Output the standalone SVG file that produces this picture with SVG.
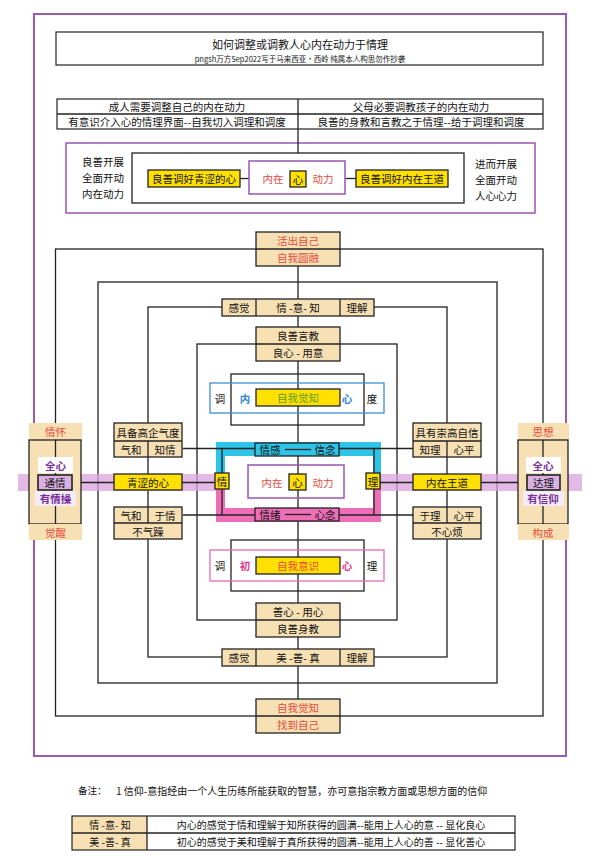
<svg xmlns="http://www.w3.org/2000/svg" width="600" height="856" viewBox="0 0 600 856">
<style>
.ln{stroke:#222;stroke-width:1.3;fill:none}
.bx{stroke:#222;stroke-width:1.3;fill:#F7E0B4}
.wb{stroke:#222;stroke-width:1.2;fill:#fff}
.yb{stroke:#222;stroke-width:1.3;fill:#FFE000}
.lb{fill:#F7E0B4;stroke:none}
.t{font-family:"Noto Sans CJK SC","Noto Sans",sans-serif;font-size:10.5px;fill:#111;text-anchor:middle;dominant-baseline:central}
.s{font-size:9.5px}
.r{fill:#E84A3F}
.bl{fill:#2A86D6;font-weight:bold}
.m{fill:#E2358F;font-weight:bold}
.p{fill:#7A2E9E;font-weight:bold}
.g{fill:#5E9E2A}
.pu{stroke:#9B55B0;stroke-width:1.5;fill:none}
</style>
<rect x="0" y="0" width="600" height="856" fill="#fff"/>
<rect x="34" y="14" width="532" height="742" fill="none" stroke="#9A5AAE" stroke-width="2"/>

<g id="title">
<rect x="56" y="32" width="487" height="33" class="wb"/>
<text x="300" y="44" class="t" style="font-size:11px">如何调整或调教人心内在动力于情理</text>
<text x="300" y="58" class="t" style="font-size:7.5px">pngsh万方Sep2022写于马来西亚·西岭 纯属本人构思勿作抄袭</text>
</g>

<g id="header">
<rect x="57" y="99" width="486" height="30" class="wb"/>
<line x1="57" y1="114" x2="543" y2="114" class="ln"/>
<text x="177" y="106.5" class="t">成人需要调整自己的内在动力</text>
<text x="177" y="121.5" class="t">有意识介入心的情理界面--自我切入调理和调度</text>
<text x="421" y="106.5" class="t">父母必要调教孩子的内在动力</text>
<text x="421" y="121.5" class="t">良善的身教和言教之于情理--给于调理和调度</text>
</g>

<g id="purplebox">
<rect x="66" y="143" width="469" height="70" class="pu"/>
<rect x="132" y="153" width="332" height="50" class="ln" style="fill:#fff"/>
<text x="103" y="161" class="t">良善开展</text>
<text x="103" y="177" class="t">全面开动</text>
<text x="103" y="193" class="t">内在动力</text>
<text x="496" y="163" class="t">进而开展</text>
<text x="496" y="179" class="t">全面开动</text>
<text x="496" y="195" class="t">人心心力</text>
</g>

<g id="connectors">
<line x1="298" y1="99" x2="298" y2="153" class="ln"/>
<line x1="240" y1="178.5" x2="249" y2="178.5" class="ln"/>
<line x1="345" y1="178.5" x2="356" y2="178.5" class="ln"/>
<rect x="55.5" y="249" width="487.5" height="467" class="ln"/>
<rect x="98" y="282" width="399" height="401" class="ln"/>
<rect x="148" y="307" width="299" height="350" class="ln"/>
<rect x="197" y="344" width="200" height="276" class="ln"/>
<rect x="231" y="374" width="133" height="51" class="ln"/>
<rect x="231" y="540" width="133" height="51" class="ln"/>
<line x1="298" y1="266" x2="298" y2="699" class="ln"/>
</g>

<g id="bands">
<rect x="18" y="474" width="198" height="17" fill="#D9A3DD" opacity="0.75"/>
<rect x="381" y="474" width="201" height="17" fill="#D9A3DD" opacity="0.75"/>
<path d="M216,482 V442 H381 V482 H373 V456 H225 V482 Z" fill="#2EC4E8"/>
<path d="M216,482 V522 H381 V482 H373 V508 H225 V482 Z" fill="#EE6FB7"/>
</g>

<g id="links">
<line x1="183" y1="448.5" x2="413" y2="448.5" class="ln"/>
<line x1="183" y1="515" x2="413" y2="515" class="ln"/>
<line x1="222" y1="448.5" x2="222" y2="515" class="ln"/>
<line x1="374" y1="448.5" x2="374" y2="515" class="ln"/>
<line x1="72" y1="482.5" x2="114" y2="482.5" class="ln"/>
<line x1="182" y1="482.5" x2="216" y2="482.5" class="ln"/>
<line x1="380" y1="482.5" x2="413" y2="482.5" class="ln"/>
<line x1="481" y1="482.5" x2="527" y2="482.5" class="ln"/>
</g>

<g id="n-yellow-left">
<rect x="148" y="170" width="92" height="17" class="yb"/>
<text x="194" y="178.5" class="t">良善调好青涩的心</text>
</g>
<g id="n-core-top">
<rect x="249" y="161" width="96" height="33" class="pu" style="fill:#fff"/>
<text x="273" y="178.5" class="t r">内在</text>
<rect x="290" y="171" width="16" height="16" class="yb"/>
<text x="298" y="179" class="t">心</text>
<text x="323" y="178.5" class="t r">动力</text>
</g>
<g id="n-yellow-right">
<rect x="356" y="170" width="92" height="17" class="yb"/>
<text x="402" y="178.5" class="t">良善调好内在王道</text>
</g>

<g id="n-top">
<rect x="256" y="232" width="84" height="34" class="bx"/>
<line x1="256" y1="249" x2="340" y2="249" class="ln"/>
<text x="298" y="240.5" class="t r">活出自己</text>
<text x="298" y="257.5" class="t r">自我圆融</text>
</g>
<g id="n-row-top">
<rect x="222" y="299" width="152" height="17" class="bx"/>
<line x1="256" y1="299" x2="256" y2="316" class="ln"/>
<line x1="340" y1="299" x2="340" y2="316" class="ln"/>
<text x="239" y="307.5" class="t">感觉</text>
<text x="298" y="307.5" class="t">情 -意- 知</text>
<text x="357" y="307.5" class="t">理解</text>
</g>
<g id="n-yanjiao">
<rect x="256" y="327" width="84" height="34" class="bx"/>
<line x1="256" y1="344" x2="340" y2="344" class="ln"/>
<text x="298" y="335.5" class="t">良善言教</text>
<text x="298" y="352.5" class="t">良心 - 用意</text>
</g>
<g id="n-blue">
<rect x="210" y="383" width="174" height="30" fill="none" stroke="#3D8FD8" stroke-width="1.3"/>
<text x="220" y="398" class="t">调</text>
<text x="245" y="398" class="t bl">内</text>
<rect x="256" y="389" width="84" height="17" class="yb"/>
<text x="298" y="397.5" class="t g">自我觉知</text>
<text x="347" y="398" class="t bl">心</text>
<text x="372" y="398" class="t">度</text>
</g>

<g id="n-left-side">
<rect x="29" y="423" width="53" height="17" class="lb"/>
<text x="55.5" y="431.5" class="t r">情怀</text>
<rect x="29" y="440" width="52" height="84" class="bx"/>
<line x1="55.5" y1="440" x2="55.5" y2="524" class="ln"/>
<rect x="29" y="524" width="53" height="16" class="lb"/>
<text x="55.5" y="532" class="t r">觉醒</text>
<rect x="38" y="457" width="35" height="16" fill="#fff"/>
<text x="55.5" y="465" class="t p">全心</text>
<rect x="38" y="475" width="34" height="15" fill="#D9B0E2" stroke="#222" stroke-width="1.6"/>
<text x="55" y="482.5" class="t">通情</text>
<rect x="35" y="491" width="41" height="15" fill="#F4ECF6"/>
<text x="55.5" y="498.5" class="t p">有情操</text>
</g>
<g id="n-right-side">
<rect x="518" y="423" width="51" height="17" class="lb"/>
<text x="543" y="431.5" class="t r">思想</text>
<rect x="518" y="440" width="50" height="84" class="bx"/>
<line x1="543" y1="440" x2="543" y2="524" class="ln"/>
<rect x="518" y="524" width="51" height="16" class="lb"/>
<text x="543" y="532" class="t r">构成</text>
<rect x="526" y="457" width="35" height="16" fill="#fff"/>
<text x="543" y="465" class="t p">全心</text>
<rect x="527" y="475" width="33" height="15" fill="#D9B0E2" stroke="#222" stroke-width="1.6"/>
<text x="543.5" y="482.5" class="t">达理</text>
<rect x="523" y="491" width="41" height="15" fill="#F4ECF6"/>
<text x="543" y="498.5" class="t p">有信仰</text>
</g>

<g id="n-qidu">
<rect x="114" y="423" width="68" height="34" class="bx"/>
<line x1="114" y1="441" x2="182" y2="441" class="ln"/>
<line x1="148" y1="441" x2="148" y2="457" class="ln"/>
<text x="148" y="432" class="t">具备高企气度</text>
<text x="131" y="449" class="t">气和</text>
<text x="165" y="449" class="t">知情</text>
</g>
<g id="n-qingse">
<rect x="114" y="474" width="68" height="16" class="yb"/>
<text x="148" y="482.5" class="t">青涩的心</text>
</g>
<g id="n-buqizao">
<rect x="114" y="507" width="68" height="32" class="bx"/>
<line x1="114" y1="523" x2="182" y2="523" class="ln"/>
<line x1="148" y1="507" x2="148" y2="523" class="ln"/>
<text x="131" y="515" class="t">气和</text>
<text x="165" y="515" class="t">于情</text>
<text x="148" y="531" class="t">不气躁</text>
</g>
<g id="n-zixin">
<rect x="413" y="423" width="68" height="34" class="bx"/>
<line x1="413" y1="441" x2="481" y2="441" class="ln"/>
<line x1="447" y1="441" x2="447" y2="457" class="ln"/>
<text x="447" y="432" class="t">具有崇高自信</text>
<text x="430" y="449" class="t">知理</text>
<text x="464" y="449" class="t">心平</text>
</g>
<g id="n-wangdao">
<rect x="413" y="474" width="68" height="16" class="yb"/>
<text x="447" y="482.5" class="t">内在王道</text>
</g>
<g id="n-buxinfan">
<rect x="413" y="507" width="68" height="32" class="bx"/>
<line x1="413" y1="523" x2="481" y2="523" class="ln"/>
<line x1="447" y1="507" x2="447" y2="523" class="ln"/>
<text x="430" y="515" class="t">于理</text>
<text x="464" y="515" class="t">心平</text>
<text x="447" y="531" class="t">不心烦</text>
</g>

<g id="n-qinggan">
<rect x="255" y="443" width="84" height="13" fill="#2EC4E8" stroke="#222" stroke-width="1.3"/>
<line x1="285" y1="449.5" x2="311" y2="449.5" class="ln"/>
<text x="270" y="449.5" class="t">情感</text>
<text x="325" y="449.5" class="t">信念</text>
</g>
<g id="n-qingxu">
<rect x="255" y="508" width="84" height="13" fill="#EE6FB7" stroke="#222" stroke-width="1.3"/>
<line x1="285" y1="514.5" x2="311" y2="514.5" class="ln"/>
<text x="270" y="514.5" class="t">情绪</text>
<text x="325" y="514.5" class="t">心念</text>
</g>
<g id="n-qing">
<rect x="215" y="473" width="14" height="16" class="yb"/>
<text x="222" y="481.5" class="t">情</text>
</g>
<g id="n-li">
<rect x="366" y="473" width="14" height="16" class="yb"/>
<text x="373" y="481.5" class="t">理</text>
</g>
<g id="n-core">
<rect x="248" y="465" width="96" height="33" class="pu"/>
<text x="272" y="482" class="t r">内在</text>
<rect x="289" y="474" width="17" height="16" class="yb"/>
<text x="297.5" y="482.5" class="t">心</text>
<text x="323" y="482" class="t r">动力</text>
</g>

<g id="n-pink">
<rect x="210" y="550" width="174" height="31" fill="none" stroke="#E66BB5" stroke-width="1.3"/>
<text x="220" y="565.5" class="t">调</text>
<text x="245" y="565.5" class="t m">初</text>
<rect x="256" y="557" width="84" height="17" class="yb"/>
<text x="298" y="565.5" class="t r">自我意识</text>
<text x="347" y="565.5" class="t m">心</text>
<text x="372" y="565.5" class="t">理</text>
</g>
<g id="n-shenjiao">
<rect x="256" y="603" width="84" height="34" class="bx"/>
<line x1="256" y1="620" x2="340" y2="620" class="ln"/>
<text x="298" y="611.5" class="t">善心 - 用心</text>
<text x="298" y="628.5" class="t">良善身教</text>
</g>
<g id="n-row-bottom">
<rect x="222" y="649" width="152" height="17" class="bx"/>
<line x1="256" y1="649" x2="256" y2="666" class="ln"/>
<line x1="340" y1="649" x2="340" y2="666" class="ln"/>
<text x="239" y="657.5" class="t">感觉</text>
<text x="298" y="657.5" class="t">美 -善- 真</text>
<text x="357" y="657.5" class="t">理解</text>
</g>
<g id="n-bottom">
<rect x="256" y="699" width="84" height="34" class="bx"/>
<line x1="256" y1="716" x2="340" y2="716" class="ln"/>
<text x="298" y="707.5" class="t r">自我觉知</text>
<text x="298" y="724.5" class="t r">找到自己</text>
</g>

<g id="note">
<text x="78" y="790" class="t s" style="text-anchor:start">备注：</text>
<text x="116" y="790" class="t" style="text-anchor:start;font-size:10px">1 信仰-意指经由一个人生历练所能获取的智慧，亦可意指宗教方面或思想方面的信仰</text>
</g>
<g id="legend">
<rect x="72" y="816" width="75" height="34" class="lb"/>
<rect x="72" y="816" width="443" height="34" fill="none" stroke="#222" stroke-width="1.2"/>
<line x1="72" y1="833" x2="515" y2="833" class="ln"/>
<line x1="147" y1="816" x2="147" y2="850" class="ln"/>
<text x="110" y="824.5" class="t" style="font-size:10px">情 -意- 知</text>
<text x="110" y="841.5" class="t" style="font-size:10px">美 -善- 真</text>
<text x="331" y="824.5" class="t" style="font-size:10px">内心的感觉于情和理解于知所获得的圆满--能用上人心的意 -- 显化良心</text>
<text x="331" y="841.5" class="t" style="font-size:10px">初心的感觉于美和理解于真所获得的圆满--能用上人心的善 -- 显化善心</text>
</g>
</svg>
